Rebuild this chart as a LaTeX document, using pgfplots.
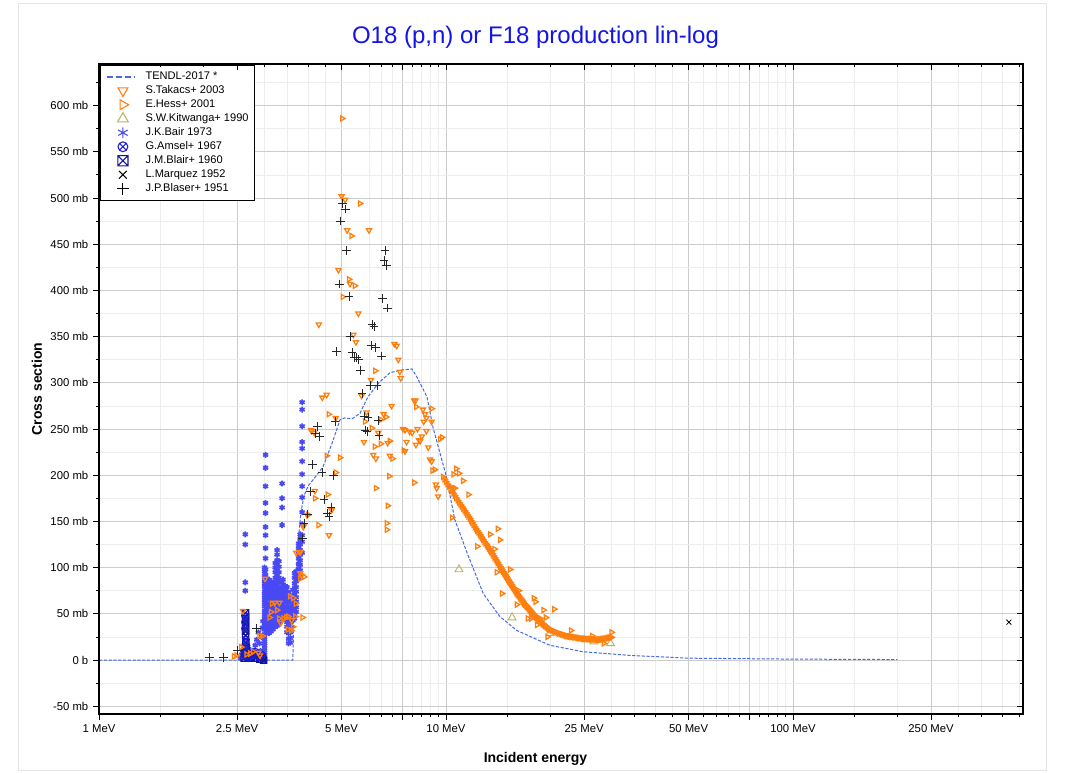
\documentclass[border=0pt]{standalone}
\usepackage{fontspec}
\setmainfont{Liberation Sans}
\usepackage{pgfplots}
\pgfplotsset{compat=1.18}
\usetikzlibrary{plotmarks}

\definecolor{tendl}{RGB}{70,105,230}
\definecolor{orng}{RGB}{255,127,14}
\definecolor{kitw}{RGB}{185,180,100}
\definecolor{bair}{RGB}{72,72,245}
\definecolor{amsel}{RGB}{30,30,210}
\definecolor{blair}{RGB}{20,20,150}
\definecolor{ttl}{RGB}{20,20,230}

% square with a cross inside, for J.M.Blair
\pgfdeclareplotmark{boxx}{%
  \pgfpathrectangle{\pgfqpoint{-\pgfplotmarksize}{-\pgfplotmarksize}}{\pgfqpoint{2\pgfplotmarksize}{2\pgfplotmarksize}}%
  \pgfpathmoveto{\pgfqpoint{-\pgfplotmarksize}{-\pgfplotmarksize}}%
  \pgfpathlineto{\pgfqpoint{\pgfplotmarksize}{\pgfplotmarksize}}%
  \pgfpathmoveto{\pgfqpoint{-\pgfplotmarksize}{\pgfplotmarksize}}%
  \pgfpathlineto{\pgfqpoint{\pgfplotmarksize}{-\pgfplotmarksize}}%
  \pgfusepathqstroke}

% legend symbol: one mark in a cell of fixed width
% #1 colour, #2 mark, #3 mark size, #4 rotation
\newcommand\legmark[4]{%
  \node[draw=none, fill=none, inner sep=0pt, minimum width=24pt, minimum height=2pt, anchor=west] at (0pt,0pt) {};
  \begin{scope}[shift={(15.25pt,0pt)}, rotate=#4, color=#1, line width=0.8pt]
    \pgfsetplotmarksize{#3}\pgfuseplotmark{#2}
  \end{scope}}

\pgfplotsset{
  tendlline/.style={color=tendl, line width=0.75pt, dash pattern=on 2.4pt off 1.2pt, no marks},
  tkc/.style={color=orng, only marks, mark=triangle, mark size=2.2pt, mark options={rotate=180, line width=0.95pt, fill=none}},
  hes/.style={color=orng, only marks, mark=triangle, mark size=2.2pt, mark options={rotate=-90, line width=0.95pt, fill=none}},
  kit/.style={color=kitw, only marks, mark=triangle, mark size=3.4pt, mark options={line width=0.7pt, fill=none}},
  bai/.style={color=bair, only marks, mark=asterisk, mark size=2.2pt, mark options={line width=1.25pt}},
  ams/.style={color=amsel, only marks, mark=otimes, mark size=2.6pt, mark options={line width=0.7pt}},
  bla/.style={color=blair, only marks, mark=boxx, mark size=2.4pt, mark options={line width=0.8pt}},
  mrq/.style={color=black, only marks, mark=x, mark size=2.6pt, mark options={line width=0.6pt}},
  bls/.style={color=black!85, only marks, mark=+, mark size=3.3pt, mark options={line width=0.6pt}},
  ltendl/.style={legend image code/.code={%
     \node[draw=none, fill=none, inner sep=0pt, minimum width=24pt, minimum height=2pt, anchor=west] at (0pt,0pt) {};
     \draw[tendl, line width=1.3pt, dash pattern=on 4.3pt off 2.4pt] (3.25pt,0pt) -- (23.5pt,0pt);}},
  ltkc/.style={legend image code/.code={\legmark{orng}{triangle}{4.3pt}{180}}},
  lhes/.style={legend image code/.code={\legmark{orng}{triangle}{4.3pt}{-90}}},
  lkit/.style={legend image code/.code={\legmark{kitw}{triangle}{4.6pt}{0}}},
  lbai/.style={legend image code/.code={\legmark{bair}{asterisk}{4.1pt}{0}}},
  lams/.style={legend image code/.code={\legmark{amsel}{otimes}{3.7pt}{0}}},
  lbla/.style={legend image code/.code={\legmark{blair}{boxx}{3.8pt}{0}}},
  lmrq/.style={legend image code/.code={\legmark{black}{x}{4.1pt}{0}}},
  lbls/.style={legend image code/.code={\legmark{black}{+}{4.4pt}{0}}},
}

\begin{document}
\begin{tikzpicture}
\useasboundingbox (-74.25pt,-45pt) rectangle (729pt,535.5pt);
\draw[black!10, line width=0.75pt] (-60pt,-42.75pt) rectangle (710.25pt,532.5pt);

\begin{axis}[
  at={(0pt,0pt)}, anchor=south west,
  scale only axis, width=693pt, height=487.5pt,
  xmode=log, xmin=1, xmax=460, ymin=-58.4, ymax=645,
  xtick={1,2.5,5,7.5,10,25,50,75,100,250},
  xticklabels={1 MeV,2.5 MeV,5 MeV,{},10 MeV,25 MeV,50 MeV,{},100 MeV,250 MeV},
  minor xtick={1.5,2,3,3.5,4,4.5,6,6.5,7,8,8.5,9,9.5,15,20,30,35,40,45,55,60,65,70,80,85,90,95,150,200,300,350,400,450},
  ytick={-50,0,50,100,150,200,250,300,350,400,450,500,550,600},
  yticklabels={-50 mb,0 b,50 mb,100 mb,150 mb,200 mb,250 mb,300 mb,350 mb,400 mb,450 mb,500 mb,550 mb,600 mb},
  minor ytick={-25,25,75,125,175,225,275,325,375,425,475,525,575,625},
  grid=both,
  major grid style={black!20, line width=0.6pt},
  minor grid style={black!7, line width=0.5pt},
  tick pos=left, tick align=outside,
  major tick length=4.5pt, minor tick length=2.5pt,
  tick style={black, line width=0.6pt},
  ticklabel style={font=\fontsize{8.5}{10}\selectfont},
  axis line style={line width=0.8pt},
  title={O18 (p,n) or F18 production lin-log},
  title style={at={(axis description cs:0.4724,1)}, anchor=base, yshift=9.3pt,
    font=\fontsize{18}{20}\selectfont, text=ttl},
  xlabel={Incident energy}, ylabel={Cross section},
  every axis x label/.style={at={(axis description cs:0.4724,0)}, anchor=base, yshift=-36.75pt,
    font=\bfseries\fontsize{10.5}{12}\selectfont},
  every axis y label/.style={at={(axis description cs:-0.0617,0.5)}, rotate=90, anchor=base,
    font=\bfseries\fontsize{10.5}{12}\selectfont},
  legend cell align=left,
  legend style={at={(axis description cs:0.001,0.9985)}, anchor=north west,
    draw=black, fill=white, font=\fontsize{8.3}{9}\selectfont,
    inner xsep=2pt, inner ysep=3.4pt, row sep=0pt,
    nodes={inner ysep=1.5pt, text height=5.9pt, text depth=1.6pt},
    /tikz/every odd column/.append style={column sep=6pt}},
]

% legend entries
\addlegendimage{ltendl}
\addlegendentry{TENDL-2017 *}
\addlegendimage{ltkc}
\addlegendentry{S.Takacs+ 2003}
\addlegendimage{lhes}
\addlegendentry{E.Hess+ 2001}
\addlegendimage{lkit}
\addlegendentry{S.W.Kitwanga+ 1990}
\addlegendimage{lbai}
\addlegendentry{J.K.Bair 1973}
\addlegendimage{lams}
\addlegendentry{G.Amsel+ 1967}
\addlegendimage{lbla}
\addlegendentry{J.M.Blair+ 1960}
\addlegendimage{lmrq}
\addlegendentry{L.Marquez 1952}
\addlegendimage{lbls}
\addlegendentry{J.P.Blaser+ 1951}

% J.K.Bair 1973
\addplot[bai, forget plot] coordinates {
(2.64,136)(2.64,125)(2.64,84)(2.64,75)
(2.56,2)(2.58,6)(2.60,10)(2.62,4)(2.66,8)(2.70,12)(2.74,5)(2.78,10)(2.82,16)(2.85,22)(2.88,30)(2.90,18)(2.92,10)(2.94,25)(2.95,4)(2.96,35)(2.97,42)
(3.02,222)(3.02,208)(3.02,188)(3.02,170)(3.02,159)(3.02,144)(3.02,135)(3.02,121)(3.02,110)
(3.00,0)(3.00,4)(3.00,8)(3.00,12)(3.00,16)(3.00,20)(3.00,24)(3.00,28)(3.00,33)(3.00,37)(3.00,41)(3.00,45)(3.00,49)(3.00,53)(3.00,58)(3.00,62)(3.00,66)(3.00,70)(3.00,74)(3.00,79)(3.00,83)(3.00,87)(3.00,91)(3.00,96)(3.00,100)
(3.02,75)(3.02,80)(3.02,86)(3.02,92)(3.02,98)
(3.05,30)(3.05,34)(3.05,39)(3.05,45)(3.05,50)(3.05,55)(3.05,61)(3.05,66)(3.05,72)(3.05,77)(3.05,83)
(3.09,29)(3.09,35)(3.09,40)(3.09,44)(3.09,49)(3.09,56)(3.09,60)(3.09,67)(3.09,71)(3.09,76)(3.09,82)(3.09,87)
(3.13,31)(3.13,36)(3.13,42)(3.13,47)(3.13,53)(3.13,58)(3.13,63)(3.13,69)(3.13,74)(3.13,80)(3.13,85)
(3.17,33)(3.17,38)(3.17,44)(3.17,49)(3.17,54)(3.17,59)(3.17,65)(3.17,70)(3.17,76)(3.17,81)
(3.22,36)(3.22,41)(3.22,46)(3.22,52)(3.22,57)(3.22,62)(3.22,68)(3.22,73)(3.22,78)(3.22,84)(3.22,89)(3.22,95)(3.22,100)(3.22,105)
(3.26,37)(3.26,42)(3.26,48)(3.26,53)(3.26,59)(3.26,64)(3.26,70)(3.26,75)(3.26,81)(3.26,86)(3.26,92)(3.26,97)(3.26,103)(3.26,108)(3.26,114)(3.26,119)
(3.30,40)(3.30,45)(3.30,51)(3.30,56)(3.30,62)(3.30,67)(3.30,73)(3.30,78)(3.30,84)(3.30,89)(3.30,95)(3.30,101)(3.30,107)
(3.35,45)(3.35,50)(3.35,56)(3.35,61)(3.35,67)(3.35,72)(3.35,78)(3.35,84)
(3.39,44)(3.39,49)(3.39,55)(3.39,60)(3.39,66)(3.39,71)(3.39,77)(3.39,82)(3.39,87)
(3.43,46)(3.43,52)(3.43,57)(3.43,63)(3.43,68)(3.43,74)(3.43,80)
(3.37,191)(3.37,175)(3.37,165)(3.37,146)
(3.48,30)(3.48,36)(3.48,41)(3.48,47)(3.48,52)(3.48,58)(3.48,63)(3.48,69)(3.48,74)(3.48,79)
(3.52,18)(3.52,23)(3.52,29)(3.52,34)(3.52,40)(3.52,45)(3.52,51)(3.52,56)(3.52,62)(3.52,67)(3.52,73)
(3.56,19)(3.56,24)(3.56,30)(3.56,35)(3.56,41)(3.56,46)(3.56,52)(3.56,57)(3.56,63)
(3.62,43)(3.62,48)(3.62,54)(3.62,59)(3.62,65)(3.62,70)(3.62,76)
(3.66,45)(3.66,50)(3.66,56)(3.66,61)(3.66,67)(3.66,72)(3.66,78)(3.66,83)(3.66,89)(3.66,94)
(3.70,52)(3.70,57)(3.70,63)(3.70,68)(3.70,74)(3.70,79)(3.70,85)(3.70,90)(3.70,96)
(3.76,88)(3.76,93)(3.76,99)(3.76,104)(3.76,110)(3.76,115)(3.76,121)(3.76,126)
(3.80,92)(3.80,97)(3.80,103)(3.80,108)(3.80,114)(3.80,119)(3.80,125)(3.80,131)(3.80,136)
(3.85,279)(3.85,271)(3.85,253)(3.85,236)(3.85,229)(3.85,215)(3.85,201)(3.85,188)(3.85,176)(3.85,160)(3.85,147)(3.85,135)(3.85,128)(3.85,116)
};

% J.M.Blair+ 1960
\addplot[bla, forget plot] coordinates {
(2.645,51)(2.645,47)(2.645,43)(2.645,39)(2.645,35)(2.645,31)(2.645,27)
(2.62,2)(2.63,8)(2.64,14)(2.65,19)(2.66,12)(2.67,5)(2.69,2)(2.72,6)(2.75,3)(2.79,7)(2.83,2)(2.87,5)(2.91,1)(2.95,3)(2.98,0)
};

% G.Amsel+ 1967
\addplot[ams, forget plot] coordinates {
(2.635,48)(2.635,41)(2.635,34)(2.62,10)(2.64,4)(2.65,22)(2.66,16)(2.68,8)(2.71,3)(2.76,5)(2.82,9)(2.89,3)(2.94,6)
};

% TENDL-2017
\addplot[tendlline, forget plot] coordinates {
(1,0)(3.62,0)(3.64,40)(3.67,75)(3.72,105)(3.76,133)(3.82,160)(3.90,178)(4.0,188)(4.2,198)(4.42,209)(4.7,235)
(4.95,260)(5.1,262)(5.36,261)(5.65,267)(5.96,285)(6.4,300)(6.9,311)(7.5,314)(7.98,315)(8.25,306)(8.81,285)
(9.17,252)(10,200)(10.6,152)(11.5,116)(12.8,72)(14.3,47)(16,32)(19.9,16)(24.8,9)(33.9,5)(50,2)(100,1)(200,0.5)
};

% S.W.Kitwanga+ 1990
\addplot[kit, forget plot] coordinates {
(10.9,98)(15.5,46)(19.9,29)(26.7,20)(29.8,18)
};

% E.Hess+ 2001
\addplot[hes, forget plot] coordinates {
(2.45,4)(2.49,5)(2.57,14)(2.66,6)(2.73,7)(2.78,9)(2.90,26)(2.96,26)(3.10,46)(3.13,52)(3.15,61)(3.26,54)(3.30,45)
(3.40,45)(3.46,46)(3.51,47)(3.50,33)(3.55,69)(3.58,32)(3.62,36)(3.63,67)(3.68,47)(3.69,61)(3.80,88)(3.84,92)
(3.86,46)(3.90,90)(4.01,157)(4.19,175)(4.29,146)(4.53,221)(4.56,179)(4.59,266)(4.81,203)(4.95,219)(5.02,586)
(5.04,393)(5.25,412)(5.34,459)(5.46,405)(5.65,494)(5.84,258)(6.11,251)(6.23,231)(6.25,313)(6.28,186)(6.48,234)
(6.49,260)(6.72,263)(6.75,148)(6.75,141)(6.79,167)(6.86,199)(6.89,237)(7.01,218)(7.55,227)(8.10,192)(8.20,274)
(9.09,272)(9.14,205)(9.28,206)(9.60,239)(9.73,241)(10.4,154)(10.5,201)(10.7,207)(10.9,202)(11.2,194)(10.5,186)
(10.6,186)(11.6,179)(12.3,123)(13.4,136)(14.1,142)(14.3,130)(13.8,120)(14.0,95)(15.3,98)(14.5,72)(16.0,60)
(16.2,75)(17.9,67)(18.1,63)(19.1,54)(20.5,55)(17.2,45)(17.6,45)(18.3,38)(18.7,45)(19.4,46)(19.6,25)(22.9,32)
(26.4,26)(28.5,18)(30.0,30)
(9.8,198.2)(9.9,195.6)(10.0,193)(10.1,190.4)(10.2,187.8)(10.3,185.3)(10.4,182.8)(10.5,180.3)(10.6,177.8)(10.7,175.3)
(10.8,172.8)(10.9,170.4)(11.0,168.3)(11.1,166.2)(11.2,164.1)(11.3,161.9)(11.4,159.8)(11.5,157.6)(11.6,155.4)(11.7,153.1)
(11.8,150.8)(11.9,148.6)(12.0,146.3)(12.1,144)(12.2,142)(12.3,140)(12.4,138)(12.5,136)(12.6,134)(12.7,132)(12.8,130)
(12.9,128.1)(13.0,126.3)(13.1,124.4)(13.2,122.5)(13.3,120.6)(13.4,118.8)(13.5,116.9)(13.6,115)(13.7,113)(13.8,111)
(13.9,109)(14.0,107)(14.1,105)(14.2,103)(14.3,101)(14.4,99.3)(14.5,97.5)(14.6,95.8)(14.7,94)(14.8,92.3)(14.9,90.5)
(15.0,88.8)(15.1,87)(15.2,85.3)(15.3,83.7)(15.4,82)(15.5,80.3)(15.6,78.7)(15.7,77)(15.8,75.3)(15.9,73.7)(16.0,72)
(16.1,70.7)(16.2,69.3)(16.3,68)(16.4,66.7)(16.5,65.3)(16.6,64)(16.7,62.7)(16.8,61.3)(16.9,60)(17.0,58.9)(17.1,57.8)
(17.2,56.7)(17.3,55.6)(17.4,54.5)(17.5,53.4)(17.6,52.3)(17.7,51.2)(17.8,50.1)(17.9,49)(18.0,48.1)(18.1,47.2)(18.2,46.3)
(18.3,45.4)(18.4,44.5)(18.5,43.6)(18.6,42.7)(18.7,41.8)(18.8,40.9)(18.9,40)(19.0,39.3)(19.1,38.6)(19.2,37.9)(19.3,37.2)
(19.4,36.5)(19.5,35.8)(19.6,35.1)(19.7,34.4)(19.8,33.7)(19.9,33)
(20.0,32.7)(20.2,32)(20.4,31.3)(20.6,30.7)(20.8,30)(21.0,29.3)
(21.2,28.8)(21.4,28.3)(21.6,27.8)(21.8,27.3)(22.0,26.8)(22.2,26.3)(22.4,25.9)(22.6,25.7)(22.8,25.4)(23.0,25.2)
(23.2,25)(23.4,24.7)(23.6,24.5)(23.8,24.3)(24.0,24)(24.2,23.8)(24.4,23.6)(24.6,23.3)(24.8,23.1)(25.0,23)(25.2,22.9)
(25.4,22.8)(25.6,22.8)(25.8,22.7)(26.0,22.6)(26.2,22.5)(26.4,22.5)(26.6,22.4)(26.8,22.3)(27.0,22.2)(27.2,22.2)
(27.4,22.1)(27.6,22.1)(27.8,22)(28.0,22.2)(28.2,22.4)(28.4,22.7)(28.6,22.9)(28.8,23.1)(29.0,23.4)(29.2,23.6)
(29.4,23.8)(29.6,24)(29.8,24.3)(30.0,24.5)
};

% S.Takacs+ 2003
\addplot[tkc, forget plot] coordinates {
(2.60,53)(2.88,8)(2.91,5)(3.01,88)(3.21,62)(3.31,62)(3.34,40)(3.59,43)(3.70,116)(3.78,117)(3.81,117)(3.80,94)
(3.88,144)(3.90,146)(3.98,157)(4.08,249)(4.10,248)(4.17,246)(4.19,183)(4.30,363)(4.40,284)(4.53,287)(4.60,135)
(4.68,162)(4.81,262)(4.90,422)(5.00,502)(5.12,498)(5.19,465)(5.29,407)(5.41,352)(5.50,344)(5.59,375)(5.71,286)
(5.80,236)(5.90,268)(6.00,465)(6.08,303)(6.17,222)(6.28,218)(6.38,246)(6.61,266)(6.79,235)(6.89,221)(6.97,275)
(7.10,342)(7.21,340)(7.29,325)(7.36,312)(7.40,305)(7.52,250)(7.62,249)(7.62,226)(7.70,236)(7.86,247)(7.99,246)
(8.09,281)(8.17,281)(8.19,233)(8.28,250)(8.36,238)(8.42,237)(8.52,242)(8.58,271)(8.62,258)(8.70,266)(8.78,262)
(8.78,248)(8.89,230)(8.99,217)(9.09,258)(9.09,215)(9.35,190)(9.40,186)(9.49,177)
};

% L.Marquez 1952
\addplot[mrq, forget plot] coordinates {(419,41)};

% J.P.Blaser+ 1951
\addplot[bls, forget plot] coordinates {
(2.08,3)(2.29,3)(2.50,10)(2.85,34)(3.85,132)(3.90,148)(3.98,158)(4.06,182)(4.13,212)(4.19,245)(4.27,253)(4.33,242)
(4.39,203)(4.45,174)(4.54,159)(4.60,155)(4.66,165)(4.73,200)(4.79,258)(4.84,334)(4.92,407)(4.97,475)(5.04,494)
(5.12,488)(5.17,443)(5.25,393)(5.29,350)(5.36,333)(5.43,327)(5.53,327)(5.61,325)(5.68,313)(5.73,288)(5.80,264)
(5.84,249)(5.92,247)(5.96,263)(6.04,297)(6.08,340)(6.12,363)(6.20,361)(6.27,338)(6.33,297)(6.37,259)(6.41,243)
(6.53,329)(6.57,391)(6.63,432)(6.67,443)(6.75,427)(6.79,381)
};
\end{axis}

% inward ticks on the top and right sides
\begin{axis}[
  at={(0pt,0pt)}, anchor=south west,
  scale only axis, width=693pt, height=487.5pt,
  xmode=log, xmin=1, xmax=460, ymin=-58.4, ymax=645,
  xtick={1,2.5,5,7.5,10,25,50,75,100,250},
  minor xtick={1.5,2,3,3.5,4,4.5,6,6.5,7,8,8.5,9,9.5,15,20,30,35,40,45,55,60,65,70,80,85,90,95,150,200,300,350,400,450},
  ytick={-50,0,50,100,150,200,250,300,350,400,450,500,550,600},
  minor ytick={-25,25,75,125,175,225,275,325,375,425,475,525,575,625},
  xticklabels={}, yticklabels={},
  tick pos=right, tick align=inside,
  major tick length=4.5pt, minor tick length=2.5pt,
  tick style={black, line width=0.6pt},
  axis line style={line width=0.8pt},
]
\end{axis}
\end{tikzpicture}
\end{document}
